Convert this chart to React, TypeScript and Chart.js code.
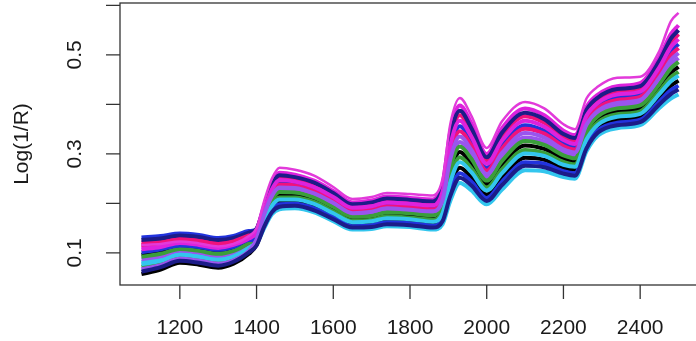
import { useEffect, useRef } from "react";
import { Chart, registerables } from "chart.js";

Chart.register(...registerables);

// Wavelength grid (nm) shared by every spectrum
const wavelengths = [
  1100, 1150, 1200, 1250, 1300, 1340, 1380, 1400, 1420, 1440, 1460, 1500,
  1550, 1600, 1650, 1700, 1740, 1800, 1860, 1885, 1905, 1930, 1960, 2000,
  2040, 2100, 2150, 2200, 2230, 2260, 2290, 2340, 2400, 2450, 2480, 2500,
];

const xTicks = [1200, 1400, 1600, 1800, 2000, 2200, 2400];
const yTicks = [0.1, 0.2, 0.3, 0.4, 0.5, 0.6];
const yTickLabels = ["0.1", "", "0.3", "", "0.5", ""];
const yTitle = "Log(1/R)";

// Log(1/R) spectra, one array per sample
const sample01 = [0.096, 0.102, 0.111, 0.108, 0.102, 0.108, 0.122, 0.131, 0.168, 0.203, 0.218, 0.217, 0.208, 0.188, 0.169, 0.171, 0.178, 0.176, 0.171, 0.191, 0.261, 0.304, 0.280, 0.239, 0.278, 0.317, 0.310, 0.291, 0.285, 0.341, 0.370, 0.386, 0.392, 0.434, 0.464, 0.476];
const sample02 = [0.121, 0.125, 0.131, 0.128, 0.122, 0.127, 0.138, 0.147, 0.190, 0.232, 0.252, 0.249, 0.238, 0.217, 0.195, 0.198, 0.206, 0.203, 0.200, 0.229, 0.327, 0.378, 0.344, 0.287, 0.336, 0.376, 0.363, 0.335, 0.327, 0.383, 0.409, 0.426, 0.432, 0.482, 0.525, 0.542];
const sample03 = [0.072, 0.080, 0.092, 0.088, 0.082, 0.089, 0.107, 0.123, 0.165, 0.198, 0.212, 0.212, 0.203, 0.184, 0.165, 0.167, 0.174, 0.171, 0.167, 0.185, 0.251, 0.293, 0.271, 0.232, 0.269, 0.308, 0.302, 0.284, 0.279, 0.335, 0.364, 0.380, 0.386, 0.427, 0.455, 0.466];
const sample04 = [0.131, 0.134, 0.139, 0.136, 0.130, 0.134, 0.144, 0.147, 0.184, 0.223, 0.242, 0.240, 0.229, 0.209, 0.187, 0.190, 0.198, 0.195, 0.192, 0.218, 0.307, 0.356, 0.325, 0.272, 0.319, 0.358, 0.347, 0.322, 0.314, 0.371, 0.398, 0.414, 0.420, 0.467, 0.507, 0.522];
const sample05 = [0.081, 0.088, 0.099, 0.096, 0.090, 0.096, 0.113, 0.119, 0.150, 0.178, 0.188, 0.190, 0.182, 0.164, 0.147, 0.148, 0.154, 0.152, 0.147, 0.158, 0.205, 0.241, 0.226, 0.198, 0.228, 0.267, 0.265, 0.253, 0.250, 0.305, 0.337, 0.352, 0.358, 0.393, 0.412, 0.420];
const sample06 = [0.111, 0.116, 0.123, 0.120, 0.114, 0.119, 0.132, 0.147, 0.196, 0.240, 0.262, 0.258, 0.246, 0.225, 0.202, 0.206, 0.214, 0.211, 0.208, 0.240, 0.345, 0.398, 0.362, 0.300, 0.352, 0.392, 0.378, 0.347, 0.338, 0.395, 0.420, 0.437, 0.443, 0.495, 0.542, 0.560];
const sample07 = [0.087, 0.093, 0.104, 0.100, 0.094, 0.100, 0.116, 0.131, 0.174, 0.211, 0.227, 0.226, 0.216, 0.196, 0.176, 0.179, 0.186, 0.183, 0.179, 0.201, 0.279, 0.324, 0.298, 0.252, 0.294, 0.333, 0.325, 0.303, 0.297, 0.353, 0.381, 0.397, 0.403, 0.447, 0.481, 0.494];
const sample08 = [0.126, 0.129, 0.135, 0.132, 0.126, 0.130, 0.141, 0.149, 0.193, 0.236, 0.257, 0.253, 0.242, 0.221, 0.198, 0.202, 0.210, 0.207, 0.204, 0.234, 0.335, 0.387, 0.352, 0.293, 0.343, 0.383, 0.370, 0.340, 0.332, 0.389, 0.414, 0.431, 0.437, 0.488, 0.533, 0.550];
const sample09 = [0.057, 0.066, 0.080, 0.076, 0.070, 0.078, 0.098, 0.116, 0.159, 0.190, 0.203, 0.204, 0.195, 0.176, 0.158, 0.160, 0.166, 0.164, 0.159, 0.174, 0.233, 0.272, 0.253, 0.218, 0.253, 0.292, 0.288, 0.272, 0.268, 0.323, 0.354, 0.369, 0.375, 0.413, 0.438, 0.448];
const sample10 = [0.116, 0.120, 0.127, 0.124, 0.118, 0.123, 0.135, 0.141, 0.181, 0.220, 0.238, 0.236, 0.225, 0.205, 0.184, 0.187, 0.194, 0.192, 0.188, 0.213, 0.299, 0.346, 0.317, 0.266, 0.311, 0.351, 0.341, 0.316, 0.309, 0.365, 0.393, 0.409, 0.415, 0.461, 0.499, 0.514];
const sample11 = [0.092, 0.098, 0.108, 0.104, 0.098, 0.104, 0.120, 0.131, 0.172, 0.207, 0.223, 0.222, 0.212, 0.193, 0.173, 0.175, 0.182, 0.180, 0.176, 0.197, 0.271, 0.315, 0.290, 0.246, 0.286, 0.326, 0.318, 0.297, 0.291, 0.347, 0.376, 0.392, 0.398, 0.441, 0.473, 0.486];
const sample12 = [0.101, 0.107, 0.115, 0.112, 0.106, 0.112, 0.126, 0.127, 0.156, 0.186, 0.198, 0.199, 0.190, 0.172, 0.154, 0.156, 0.162, 0.160, 0.155, 0.169, 0.223, 0.261, 0.244, 0.211, 0.244, 0.283, 0.280, 0.265, 0.261, 0.317, 0.348, 0.363, 0.369, 0.406, 0.429, 0.438];
const sample13 = [0.077, 0.084, 0.096, 0.092, 0.086, 0.093, 0.110, 0.123, 0.162, 0.195, 0.208, 0.208, 0.199, 0.180, 0.162, 0.164, 0.170, 0.168, 0.163, 0.180, 0.243, 0.283, 0.263, 0.226, 0.261, 0.301, 0.296, 0.278, 0.274, 0.329, 0.359, 0.375, 0.381, 0.421, 0.447, 0.458];
const sample14 = [0.107, 0.112, 0.120, 0.116, 0.110, 0.116, 0.129, 0.141, 0.187, 0.228, 0.247, 0.244, 0.233, 0.213, 0.191, 0.194, 0.202, 0.199, 0.196, 0.224, 0.317, 0.367, 0.335, 0.280, 0.327, 0.367, 0.355, 0.328, 0.320, 0.377, 0.403, 0.420, 0.426, 0.475, 0.516, 0.532];
const sample15 = [0.067, 0.075, 0.088, 0.084, 0.078, 0.085, 0.104, 0.127, 0.178, 0.215, 0.232, 0.231, 0.220, 0.201, 0.180, 0.183, 0.190, 0.187, 0.184, 0.207, 0.289, 0.335, 0.308, 0.259, 0.302, 0.342, 0.333, 0.309, 0.303, 0.359, 0.387, 0.403, 0.409, 0.454, 0.490, 0.504];
const sample16 = [0.062, 0.071, 0.084, 0.080, 0.074, 0.082, 0.101, 0.115, 0.153, 0.182, 0.193, 0.195, 0.186, 0.168, 0.151, 0.152, 0.158, 0.156, 0.151, 0.164, 0.215, 0.252, 0.236, 0.205, 0.237, 0.276, 0.273, 0.260, 0.256, 0.311, 0.343, 0.358, 0.364, 0.400, 0.421, 0.430];
const sample17 = [0.116, 0.118, 0.123, 0.119, 0.113, 0.118, 0.134, 0.150, 0.205, 0.250, 0.272, 0.268, 0.256, 0.233, 0.209, 0.213, 0.221, 0.219, 0.216, 0.250, 0.360, 0.413, 0.377, 0.312, 0.366, 0.405, 0.392, 0.360, 0.350, 0.412, 0.436, 0.454, 0.456, 0.508, 0.568, 0.585];

const samples = [
  sample01, sample02, sample03, sample04, sample05, sample06, sample07, sample08,
  sample09, sample10, sample11, sample12, sample13, sample14, sample15, sample16,
  sample17,
];

// Line colours, recycled in drawing order
const palette = [
  "#000000", "#F0127C", "#3A9E3A", "#2233DD",
  "#33C6EE", "#DD22DD", "#9A55EE", "#1C1C88",
];
const lastColor = "#E23ADA";

const axesPlugin = {
  id: "baseAxes",
  afterDraw(chart: any) {
    const { ctx, chartArea: a, scales } = chart;
    const xs = scales.x;
    const ys = scales.y;
    ctx.save();
    ctx.strokeStyle = "#333333";
    ctx.lineWidth = 1.3;
    ctx.strokeRect(a.left, a.top, a.right - a.left, a.bottom - a.top);
    ctx.beginPath();
    for (const v of xTicks) {
      const px = xs.getPixelForValue(v);
      ctx.moveTo(px, a.bottom);
      ctx.lineTo(px, a.bottom + 14);
    }
    for (const v of yTicks) {
      const py = ys.getPixelForValue(v);
      ctx.moveTo(a.left - 14, py);
      ctx.lineTo(a.left, py);
    }
    ctx.stroke();

    ctx.fillStyle = "#1a1a1a";
    ctx.font = '21px "Liberation Sans", Arial, sans-serif';
    ctx.textAlign = "center";
    ctx.textBaseline = "middle";
    for (const v of xTicks) {
      ctx.fillText(String(v), xs.getPixelForValue(v), a.bottom + 43);
    }
    yTicks.forEach((v, i) => {
      const label = yTickLabels[i];
      if (!label) return;
      ctx.save();
      ctx.translate(a.left - 45, ys.getPixelForValue(v));
      ctx.rotate(-Math.PI / 2);
      ctx.fillText(label, 0, 0);
      ctx.restore();
    });
    ctx.save();
    ctx.translate(22, (a.top + a.bottom) / 2);
    ctx.rotate(-Math.PI / 2);
    ctx.fillText(yTitle, 0, 0);
    ctx.restore();
    ctx.restore();
  },
};

export default function App() {
  const canvasRef = useRef<HTMLCanvasElement | null>(null);

  useEffect(() => {
    const canvas = canvasRef.current;
    if (!canvas) return;
    document.body.style.overflow = "hidden";
    const datasets = samples.map((s, i) => {
      const last = i === samples.length - 1;
      return {
        data: wavelengths.map((w, j) => ({ x: w, y: s[j] })),
        borderColor: last ? lastColor : palette[i % palette.length],
        borderWidth: last ? 2.5 : 4,
        pointRadius: 0,
        fill: false,
        cubicInterpolationMode: "monotone" as const,
        order: -i,
      };
    });
    const chart = new Chart(canvas, {
      type: "line",
      data: { datasets },
      options: {
        animation: false,
        responsive: false,
        devicePixelRatio: 1,
        layout: { padding: { left: 120, top: 3, right: 20, bottom: 56 } },
        plugins: { legend: { display: false }, tooltip: { enabled: false } },
        scales: {
          x: { type: "linear", min: 1044, max: 2556, display: false },
          y: { type: "linear", min: 0.035, max: 0.605, display: false },
        },
      },
      plugins: [axesPlugin],
    });
    return () => chart.destroy();
  }, []);

  return (
    <div
      style={{
        position: "fixed",
        left: 0,
        top: 0,
        width: 720,
        height: 341,
        overflow: "hidden",
        background: "#ffffff",
      }}
    >
      <canvas ref={canvasRef} width={720} height={341} style={{ display: "block" }} />
    </div>
  );
}
